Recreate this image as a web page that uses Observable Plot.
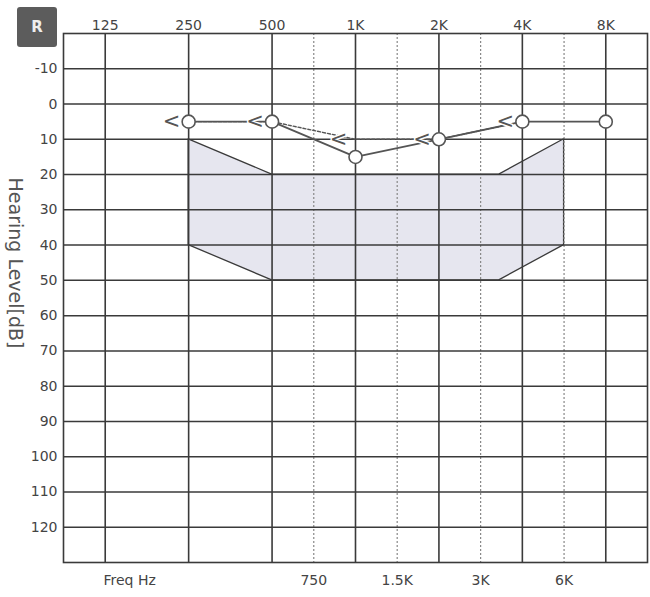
<!DOCTYPE html>
<html><head><meta charset="utf-8">
<script src="https://cdn.jsdelivr.net/npm/d3@7"></script>
<script src="https://cdn.jsdelivr.net/npm/@observablehq/plot@0.6"></script>
<style>
body{margin:0;background:#fff;}
#wrap{position:relative;width:650px;height:597px;}
#badge{position:absolute;left:17px;top:7px;width:40px;height:40px;background:#5c5c5c;color:#eee;font:bold 15px "DejaVu Sans";display:flex;align-items:center;justify-content:center;border-radius:3px;z-index:2}
</style></head><body><div id="wrap"><div id="badge">R</div></div>
<script>
const octaveTicks = [125, 250, 500, 1000, 2000, 4000, 8000];
const octaveLabels = ["125", "250", "500", "1K", "2K", "4K", "8K"];
const halfTicks = [707, 1414, 2828, 5657];
const halfLabels = ["750", "1.5K", "3K", "6K"];
const dbTicks = [-10, 0, 10, 20, 30, 40, 50, 60, 70, 80, 90, 100, 110, 120];
const airFreq = [250, 500, 1000, 2000, 4000, 8000];
const airDb = [5, 5, 15, 10, 5, 5];
const boneFreq = [250, 500, 1000, 2000, 4000];
const boneDb = [5, 5, 10, 10, 5];
const zoneFreq = [250, 500, 3300, 5657];
const zoneTop = [10, 20, 20, 10];
const zoneBottom = [40, 50, 50, 40];

const air = airFreq.map((f, i) => ({f, db: airDb[i]}));
const bone = boneFreq.map((f, i) => ({f, db: boneDb[i]}));
const zone = zoneFreq.map((f, i) => ({f, top: zoneTop[i], bottom: zoneBottom[i]}));
const topTicks = octaveTicks.map((f, i) => ({f, label: octaveLabels[i]}));
const bottomTicks = halfTicks.map((f, i) => ({f, label: halfLabels[i]}));
const ink = "#3a3a3a";

const chart = Plot.plot({
  width: 650, height: 597,
  marginTop: 33, marginBottom: 35, marginLeft: 63, marginRight: 3,
  style: {fontFamily: "DejaVu Sans", fontSize: "14px", color: "#444", background: "#fff"},
  x: {type: "log", domain: [88.39, 11314], axis: null},
  y: {domain: [-20, 130], reverse: true, axis: null},
  marks: [
    Plot.areaY(zone, {x: "f", y1: "top", y2: "bottom", fill: "#e6e6ef", stroke: ink, strokeWidth: 1.3}),
    Plot.ruleX(halfTicks, {stroke: "#888", strokeWidth: 1.2, strokeDasharray: "2,2"}),
    Plot.ruleX(octaveTicks, {stroke: ink, strokeWidth: 1.6}),
    Plot.ruleY(dbTicks, {stroke: ink, strokeWidth: 1.5}),
    Plot.frame({stroke: ink, strokeWidth: 1.6}),
    Plot.line(air, {x: "f", y: "db", stroke: "#555", strokeWidth: 1.8}),
    Plot.line(bone, {x: "f", y: "db", stroke: "#555", strokeWidth: 1.4, strokeDasharray: "3,2"}),
    Plot.dot(air, {x: "f", y: "db", r: 6.5, fill: "white", stroke: "#555", strokeWidth: 1.6}),
    Plot.text(bone, {x: "f", y: "db", text: () => "<", dx: -17, fontSize: 21, fill: "#555", stroke: "white", strokeWidth: 3}),
    Plot.text(topTicks, {x: "f", text: "label", frameAnchor: "top", lineAnchor: "middle", dy: -8, fontSize: 14, fill: "#444"}),
    Plot.text(bottomTicks, {x: "f", text: "label", frameAnchor: "bottom", lineAnchor: "middle", dy: 18, fontSize: 14, fill: "#444"}),
    Plot.text(dbTicks, {y: d => d, text: d => String(d), frameAnchor: "left", textAnchor: "end", dx: -6, fontSize: 14, fill: "#444"}),
    Plot.text(["Freq Hz"], {text: d => d, frameAnchor: "bottom-left", textAnchor: "start", lineAnchor: "middle", dx: 40, dy: 18, fontSize: 14, fill: "#444"}),
    Plot.text(["Hearing Level[dB]"], {text: d => d, frameAnchor: "left", textAnchor: "middle", rotate: 90, dx: -48, dy: -35, fontSize: 19, fill: "#555"})
  ]
});
document.getElementById("wrap").appendChild(chart);
</script>
</body></html>
